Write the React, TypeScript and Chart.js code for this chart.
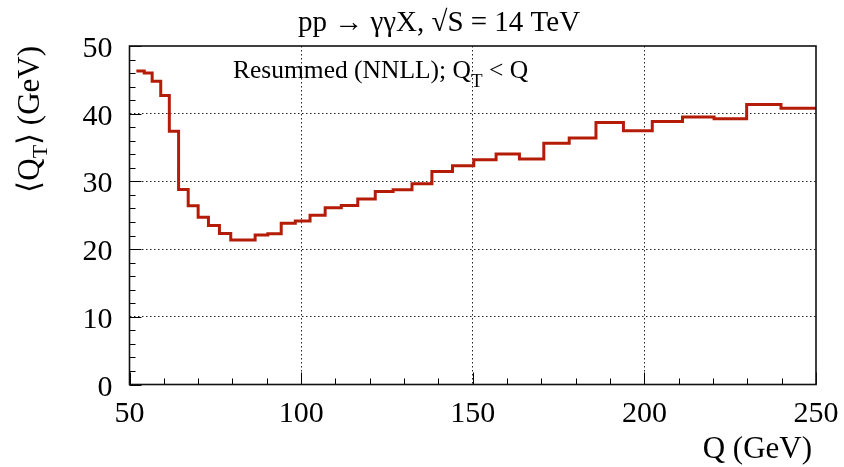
import React, { useEffect, useRef } from "react";
import { Chart, registerables } from "chart.js";

Chart.register(...registerables);

// Bin edges of Q (GeV)
const binEdges = [
  52.0, 54.3, 56.6, 59.1, 61.6, 64.3, 67.1, 70.0, 73.0, 76.2, 79.5, 83.0, 86.6,
  90.3, 94.2, 98.3, 102.6, 107.0, 111.7, 116.5, 121.6, 126.8, 132.3, 138.1,
  144.1, 150.3, 156.8, 163.6, 170.7, 178.1, 185.9, 193.9, 202.3, 211.1, 220.3,
  229.8, 239.8, 250.0,
];
// <Q_T> (GeV) per bin
const meanQT = [
  46.3, 46.0, 44.8, 42.7, 37.4, 28.8, 26.4, 24.7, 23.5, 22.3, 21.35, 21.35,
  22.1, 22.25, 23.8, 24.15, 25.0, 26.1, 26.45, 27.4, 28.5, 28.75, 29.65, 31.45,
  32.3, 33.2, 34.05, 33.3, 35.65, 36.4, 38.7, 37.5, 38.85, 39.5, 39.25, 41.35,
  40.8,
];
const xTickValues = [50, 100, 150, 200, 250];
const yTickValues = [0, 10, 20, 30, 40, 50];

const titleText = "pp \u2192 \u03b3\u03b3X, \u221aS = 14 TeV";
const FONT = '"Liberation Serif", "Times New Roman", serif';
const LINE_COLOR = "#b51c08";

export default function App() {
  const ref = useRef<HTMLCanvasElement | null>(null);

  useEffect(() => {
    if (!ref.current) return;
    const points = binEdges.map((e, i) => ({
      x: e,
      y: i < meanQT.length ? meanQT[i] : meanQT[meanQT.length - 1],
    }));

    const decor = {
      id: "decor",
      afterDatasetsDraw(chart: any) {
        const { ctx, chartArea } = chart;
        const xs = chart.scales.x;
        const ys = chart.scales.y;
        ctx.save();
        // minor/major ticks (inside)
        ctx.strokeStyle = "#000";
        ctx.lineWidth = 1;
        for (let v = 0; v <= 50; v += 2) {
          const py = Math.round(ys.getPixelForValue(v)) + 0.5;
          const len = v % 10 === 0 ? 12 : 6;
          ctx.beginPath();
          ctx.moveTo(chartArea.left, py);
          ctx.lineTo(chartArea.left + len, py);
          ctx.stroke();
        }
        for (let v = 50; v <= 250; v += 10) {
          const px = Math.round(xs.getPixelForValue(v)) + 0.5;
          const len = v % 50 === 0 ? 12 : 6;
          ctx.beginPath();
          ctx.moveTo(px, chartArea.bottom);
          ctx.lineTo(px, chartArea.bottom - len);
          ctx.stroke();
        }
        // frame
        ctx.lineWidth = 1.6;
        ctx.strokeStyle = "#111";
        ctx.strokeRect(
          chartArea.left,
          chartArea.top,
          chartArea.right - chartArea.left,
          chartArea.bottom - chartArea.top
        );

        ctx.fillStyle = "#000";
        ctx.textBaseline = "alphabetic";

        // tick labels
        ctx.font = `30px ${FONT}`;
        ctx.textAlign = "center";
        xTickValues.forEach((v) => {
          ctx.fillText(String(v), xs.getPixelForValue(v), 422);
        });
        ctx.textAlign = "right";
        yTickValues.forEach((v) => {
          ctx.fillText(String(v), chartArea.left - 17, ys.getPixelForValue(v) + 11);
        });

        // title
        ctx.font = `29px ${FONT}`;
        ctx.textAlign = "center";
        ctx.fillText(titleText, 439, 31);

        // legend text with subscript
        ctx.textAlign = "left";
        const lx = 233;
        const ly = 78;
        ctx.font = `25.5px ${FONT}`;
        const part1 = "Resummed (NNLL); Q";
        ctx.fillText(part1, lx, ly);
        let cx = lx + ctx.measureText(part1).width;
        ctx.font = `19px ${FONT}`;
        ctx.fillText("T", cx, ly + 9);
        cx += ctx.measureText("T").width;
        ctx.font = `25.5px ${FONT}`;
        ctx.fillText(" < Q", cx, ly);

        // x title
        ctx.font = `31px ${FONT}`;
        ctx.textAlign = "right";
        ctx.fillText("Q (GeV)", 812, 458);

        // y title rotated
        ctx.save();
        ctx.translate(39, 46);
        ctx.rotate(-Math.PI / 2);
        ctx.font = `31px ${FONT}`;
        const a = "\u27e8Q";
        const b = "T";
        const c = "\u27e9 (GeV)";
        const wa = ctx.measureText(a).width;
        const wc = ctx.measureText(c).width;
        ctx.font = `22px ${FONT}`;
        const wb = ctx.measureText(b).width;
        const total = wa + wb + wc;
        let tx = -total;
        ctx.textAlign = "left";
        ctx.font = `31px ${FONT}`;
        ctx.fillText(a, tx, 0);
        tx += wa;
        ctx.font = `22px ${FONT}`;
        ctx.fillText(b, tx, 8);
        tx += wb;
        ctx.font = `31px ${FONT}`;
        ctx.fillText(c, tx, 0);
        ctx.restore();

        ctx.restore();
      },
    };

    const chart = new Chart(ref.current, {
      type: "line",
      data: {
        datasets: [
          {
            data: points,
            borderColor: LINE_COLOR,
            borderWidth: 3,
            stepped: "before",
            pointRadius: 0,
            fill: false,
          },
        ],
      },
      options: {
        responsive: false,
        animation: false,
        layout: { padding: { top: 46, right: 28, left: 0, bottom: 0 } },
        plugins: {
          legend: { display: false },
          tooltip: { enabled: false },
          title: { display: false },
        },
        scales: {
          x: {
            type: "linear",
            min: 50,
            max: 250,
            afterBuildTicks: (s: any) => {
              s.ticks = xTickValues.map((v) => ({ value: v }));
            },
            afterFit: (s: any) => {
              s.height = 82.5;
            },
            ticks: { display: false },
            grid: {
              color: (c: any) =>
                c.tick && (c.tick.value === 50 || c.tick.value === 250)
                  ? "rgba(0,0,0,0)"
                  : "#222",
              lineWidth: 1,
              drawTicks: false,
            },
            border: { display: false, dash: [1.5, 2.5] },
          },
          y: {
            type: "linear",
            min: 0,
            max: 50,
            afterBuildTicks: (s: any) => {
              s.ticks = yTickValues.map((v) => ({ value: v }));
            },
            afterFit: (s: any) => {
              s.width = 129.5;
            },
            ticks: { display: false },
            grid: {
              color: (c: any) =>
                c.tick && (c.tick.value === 0 || c.tick.value === 50)
                  ? "rgba(0,0,0,0)"
                  : "#222",
              lineWidth: 1,
              drawTicks: false,
            },
            border: { display: false, dash: [1.5, 2.5] },
          },
        },
      },
      plugins: [decor],
    });
    return () => chart.destroy();
  }, []);

  return (
    <div style={{ position: "fixed", left: 0, top: 0, width: 844, height: 467, background: "#fff" }}>
      <canvas ref={ref} width={844} height={467} style={{ display: "block" }} />
    </div>
  );
}
